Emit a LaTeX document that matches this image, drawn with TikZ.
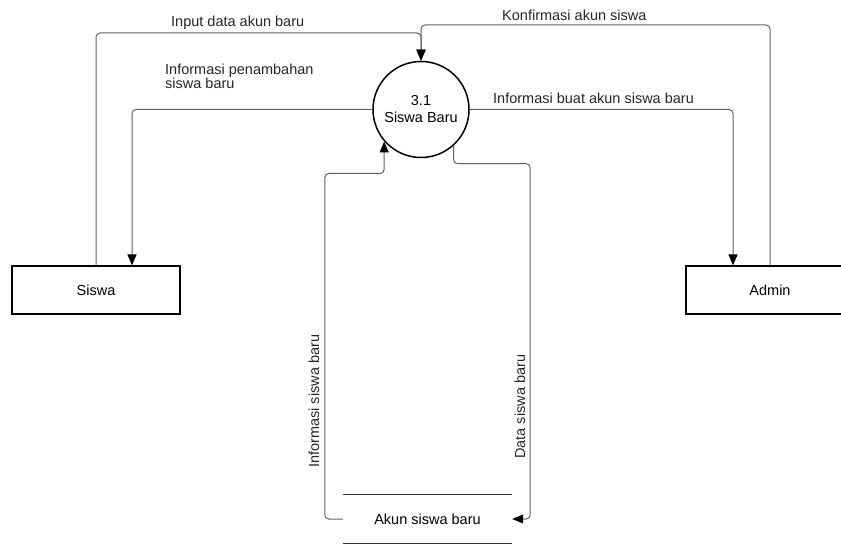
\documentclass[tikz,border=0pt]{standalone}
\usepackage{fontspec}
\setmainfont{Liberation Sans}
\usepackage{tikz}
\usetikzlibrary{positioning,arrows.meta,calc}

\begin{document}
\begin{tikzpicture}[x=1pt, y=-1pt,
    font=\fontsize{14.5}{17}\selectfont,
    entity/.style={draw=black, line width=1.2pt, minimum width=168pt, minimum height=48pt, inner sep=0pt},
    process/.style={circle, draw=black, line width=1.5pt, minimum size=96pt, inner sep=0pt, align=center},
    datastore/.style={minimum width=169pt, minimum height=48pt, inner sep=0pt},
    flow/.style={draw=black!62, line width=1pt, rounded corners=4pt, -{Triangle[length=11pt,width=9pt,color=black,fill=black]}},
    flowlabel/.style={inner sep=0pt, text=black!85, align=left}]
    \useasboundingbox (0,0) rectangle (841,545);

    % Entities and process
    \node[process] (proc) at (421,109.5) {3.1\\Siswa Baru};
    \node[entity] (siswa) at (96,290) {Siswa};
    \node[entity] (admin) at (770,290) {Admin};
    \node[datastore] (store) at (427.5,519) {Akun siswa baru};
    \draw[black!80, line width=1pt] (store.north west) -- (store.north east);
    \draw[black!80, line width=1.4pt] (store.south west) -- (store.south east);

    % Data flows
    \draw[flow] (siswa.north) -- (siswa.north |- 0,33) -- (proc.north |- 0,33) -- (proc.north);
    \draw[flow] (admin.north) -- (admin.north |- 0,25) -- (proc.north |- 0,25) -- (proc.north);
    \draw[flow] (proc.west) -| ([xshift=36pt]siswa.north);
    \draw[flow] (proc.east) -| ([xshift=-37pt]admin.north);
    \draw[flow] (store.west) -- ([xshift=-18pt]store.west) |- ([yshift=-32pt]proc.221) -- (proc.221);
    \draw[flow] (proc.312) -- ([yshift=-18pt]proc.312) -| ([xshift=18pt]store.east) -- (store.east);

    % Flow labels
    \node[flowlabel, anchor=base west] (lbinput) at (171,27) {Input data akun baru};
    \node[flowlabel, anchor=base west, font=\fontsize{14.5}{13.5}\selectfont] (lbtambah) at (165,89) {Informasi penambahan\\siswa baru};
    \node[flowlabel, anchor=base west] (lbkonf) at (502,21) {Konfirmasi akun siswa};
    \node[flowlabel, anchor=base west] (lbbuat) at (493,104) {Informasi buat akun siswa baru};
    \node[flowlabel, anchor=base west, rotate=90] (lbinfo) at (319,468) {Informasi siswa baru};
    \node[flowlabel, anchor=base west, rotate=90] (lbdata) at (525,459) {Data siswa baru};
\end{tikzpicture}
\end{document}
